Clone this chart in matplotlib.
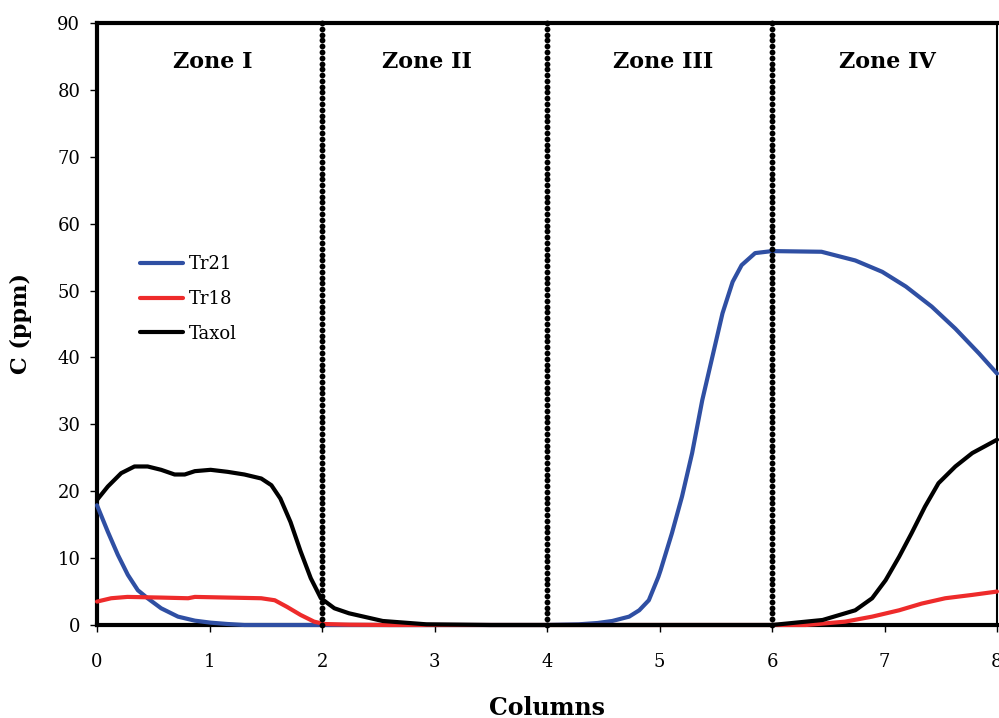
import matplotlib
matplotlib.use("Agg")
import matplotlib.pyplot as plt
import numpy as np

# data
tr21_x = [0, 0.096, 0.185, 0.274, 0.363, 0.45, 0.57, 0.72, 0.87, 1.01, 1.16, 1.31, 2.0, 3.0,
          4.0, 4.28, 4.45, 4.58, 4.73, 4.82, 4.905, 4.99, 5.01, 5.11, 5.2, 5.29, 5.38, 5.47,
          5.56, 5.65, 5.73, 5.85, 6.0, 6.44, 6.74, 6.98, 7.19, 7.42, 7.63, 7.84, 8.0]
tr21_y = [17.9, 13.95, 10.5, 7.5, 5.2, 4.0, 2.5, 1.25, 0.65, 0.35, 0.15, 0, 0, 0,
          0, 0.1, 0.3, 0.6, 1.25, 2.2, 3.7, 7.2, 8.2, 13.7, 19.2, 25.7, 33.6, 40.1,
          46.6, 51.3, 53.8, 55.6, 55.9, 55.8, 54.5, 52.8, 50.6, 47.6, 44.3, 40.6, 37.6]

tr18_x = [0, 0.126, 0.27, 0.57, 0.81, 0.87, 1.16, 1.46, 1.58, 1.69, 1.81, 1.93, 2.02, 2.24,
          2.6, 6.3, 6.65, 6.89, 7.13, 7.33, 7.54, 7.78, 8.0]
tr18_y = [3.5, 4.0, 4.2, 4.1, 4.0, 4.2, 4.1, 4.0, 3.7, 2.7, 1.5, 0.5, 0.15, 0.05,
          0, 0, 0.5, 1.25, 2.2, 3.2, 4.0, 4.5, 5.0]

taxol_x = [0, 0.096, 0.215, 0.333, 0.45, 0.57, 0.69, 0.78, 0.87, 1.01, 1.16, 1.31, 1.46,
           1.55, 1.63, 1.72, 1.81, 1.90, 1.99, 2.11, 2.24, 2.54, 2.93, 3.5, 6.0, 6.15, 6.45,
           6.74, 6.89, 7.01, 7.13, 7.24, 7.36, 7.48, 7.63, 7.78, 8.0]
taxol_y = [18.7, 20.7, 22.7, 23.7, 23.7, 23.2, 22.5, 22.5, 23.0, 23.2, 22.9, 22.5, 21.9,
           20.9, 18.9, 15.4, 11.0, 7.0, 4.0, 2.5, 1.75, 0.6, 0.1, 0, 0, 0.25, 0.75,
           2.2, 4.0, 6.7, 10.2, 13.7, 17.7, 21.2, 23.7, 25.7, 27.7]

zone_bounds = [2, 4, 6]
zone_names = ["Zone I", "Zone II", "Zone III", "Zone IV"]
zone_x = [1.03, 2.93, 5.03, 7.03]

plt.rcParams["font.family"] = "DejaVu Serif"

fig = plt.figure(figsize=(9.99, 7.18), dpi=100)
ax = fig.add_axes([97 / 999, 93 / 718, 900 / 999, 602 / 718])

lw = 3
ax.plot(tr21_x, tr21_y, color="#2f4fa3", lw=lw, label="Tr21", zorder=3, clip_on=False,
        solid_capstyle="round", solid_joinstyle="round")
ax.plot(tr18_x, tr18_y, color="#ee2b2b", lw=lw, label="Tr18", zorder=3, clip_on=False,
        solid_capstyle="round", solid_joinstyle="round")
ax.plot(taxol_x, taxol_y, color="black", lw=lw, label="Taxol", zorder=3, clip_on=False,
        solid_capstyle="round", solid_joinstyle="round")

# zone boundaries drawn as a column of round dots
n_dots = 105
for b in zone_bounds:
    ax.plot(np.full(n_dots, b), np.linspace(0, 90, n_dots), ls="none", marker="o",
            ms=4.2, mew=0, color="black", zorder=4, clip_on=False)

for name, zx in zip(zone_names, zone_x):
    ax.text(zx, 84.2, name, ha="center", va="center", fontsize=16, fontweight="bold")

ax.set_xlim(0, 8)
ax.set_ylim(0, 90)
ax.set_xticks(range(0, 9))
ax.set_yticks(range(0, 91, 10))

for s in ["left", "bottom", "top"]:
    ax.spines[s].set_linewidth(3)
ax.spines["right"].set_linewidth(1.5)

ax.tick_params(axis="both", direction="out", length=5, width=1, labelsize=13)
ax.tick_params(axis="x", pad=15)
ax.tick_params(axis="y", pad=7)

ax.set_xlabel("Columns", fontsize=17, fontweight="bold", labelpad=18)
ax.set_ylabel("C (ppm)", fontsize=16, fontweight="bold", labelpad=18)

ax.legend(loc="upper left", bbox_to_anchor=(0.038, 0.629), frameon=False, fontsize=13,
          handlelength=2.35, handletextpad=0.35, labelspacing=0.92, borderpad=0)

fig.savefig("out.png", dpi=100)
